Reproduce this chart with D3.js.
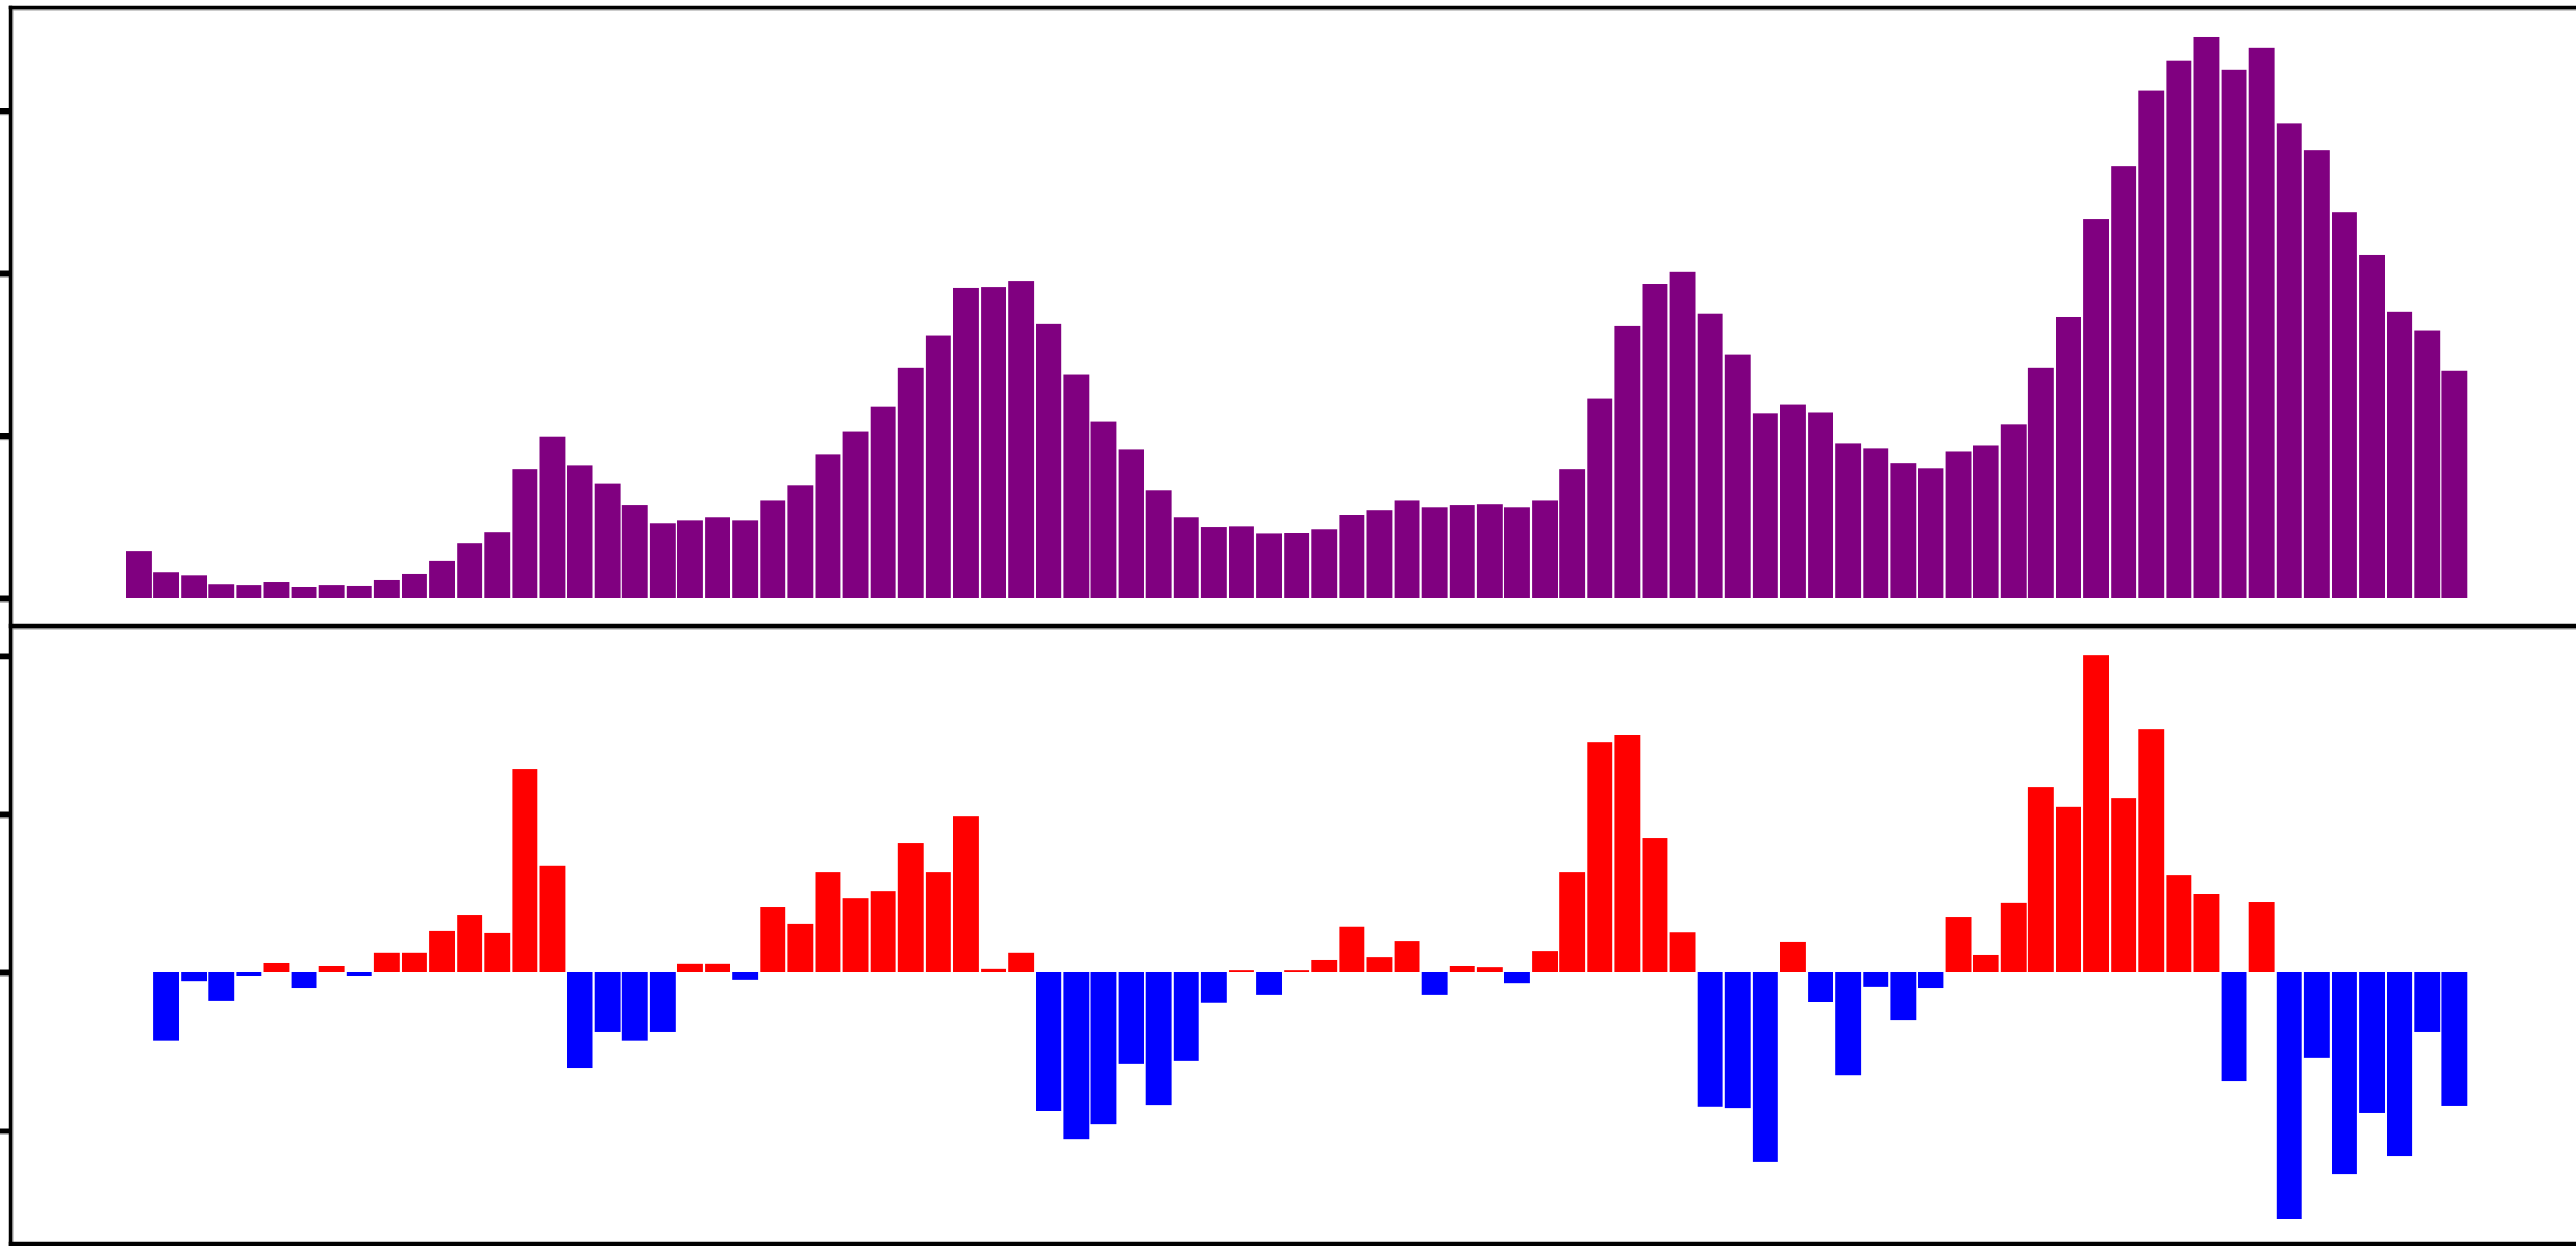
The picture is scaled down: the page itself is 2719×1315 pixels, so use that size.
<!DOCTYPE html>
<html>
<head>
<meta charset="utf-8">
<script src="https://cdn.jsdelivr.net/npm/d3@7"></script>
<style>
  html, body { margin: 0; padding: 0; background: #ffffff; overflow: hidden; }
  svg { display: block; }
</style>
</head>
<body>
<svg id="chart" width="2719" height="1315"></svg>
<script>
// ---- data ----
const categories = d3.range(1, 86); // 85 periods

const totals = [
  2.85, 1.56, 1.38, 0.86, 0.81, 0.99, 0.69, 0.81, 0.76, 1.11,
  1.46, 2.28, 3.37, 4.07, 7.92, 9.93, 8.14, 7.02, 5.71, 4.59,
  4.76, 4.94, 4.76, 5.98, 6.92, 8.84, 10.23, 11.74, 14.18, 16.12,
  19.07, 19.12, 19.47, 16.86, 13.73, 10.87, 9.13, 6.63, 4.94, 4.37,
  4.41, 3.94, 4.02, 4.24, 5.11, 5.41, 5.98, 5.58, 5.71, 5.76,
  5.58, 5.98, 7.92, 12.27, 16.74, 19.30, 20.07, 17.51, 14.95, 11.35,
  11.92, 11.40, 9.48, 9.19, 8.27, 7.97, 9.01, 9.36, 10.65, 14.18,
  17.26, 23.32, 26.58, 31.22, 33.08, 34.52, 32.49, 33.83, 29.19, 27.57,
  23.72, 21.11, 17.62, 16.47, 13.95
];

// change from the previous period (periods 2..85)
const changes = [
  -4.35, -0.55, -1.79, -0.24, 0.60, -1.02, 0.37, -0.24, 1.21,
  1.21, 2.58, 3.59, 2.46, 12.81, 6.72, -6.05, -3.77, -4.35, -3.77,
  0.55, 0.55, -0.47, 4.13, 3.06, 6.34, 4.66, 5.14, 8.14, 6.34,
  9.87, 0.19, 1.21, -8.80, -10.55, -9.59, -5.80, -8.39, -5.62, -1.96,
  0.11, -1.43, 0.11, 0.78, 2.89, 0.95, 1.97, -1.43, 0.37, 0.29,
  -0.67, 1.31, 6.34, 14.54, 14.97, 8.50, 2.50, -8.49, -8.57, -11.97,
  1.92, -1.86, -6.54, -0.95, -3.06, -1.02, 3.47, 1.08, 4.38, 11.67,
  10.43, 20.05, 11.01, 15.38, 6.16, 4.96, -6.89, 4.43, -15.58, -5.44,
  -12.76, -8.92, -11.62, -3.77, -8.44
];

const topTicks = [0, 10, 20, 30];
const bottomTicks = [-10, 0, 10, 20];
const tickLabels = ["", "", "", ""];

// ---- layout ----
const W = 2719, H = 1315;
const axisX = 11;
const topY0 = 8, topZero = 631, sepY = 661, botY1 = 1313, botZero = 1026;

const svg = d3.select("#chart");

const x = d3.scaleBand()
  .domain(categories)
  .range([131.9, 2605.4])
  .paddingInner(0.0756)
  .paddingOuter(0.0378);

const yTop = d3.scaleLinear()
  .domain([0, (topZero - topY0) / 17.15])
  .range([topZero, topY0]);

const yBot = d3.scaleLinear()
  .domain([-(botY1 - botZero) / 16.7, (botZero - sepY) / 16.7])
  .range([botY1, sepY]);

// top panel bars
svg.append("g")
  .selectAll("rect")
  .data(totals.map((v, i) => ({ c: categories[i], v })))
  .join("rect")
  .attr("x", d => x(d.c))
  .attr("width", x.bandwidth())
  .attr("y", d => yTop(d.v))
  .attr("height", d => yTop(0) - yTop(d.v))
  .attr("fill", "#800080");

// bottom panel bars
svg.append("g")
  .selectAll("rect")
  .data(changes.map((v, i) => ({ c: categories[i + 1], v })))
  .join("rect")
  .attr("x", d => x(d.c))
  .attr("width", x.bandwidth())
  .attr("y", d => yBot(Math.max(0, d.v)))
  .attr("height", d => Math.abs(yBot(d.v) - yBot(0)))
  .attr("fill", d => d.v >= 0 ? "#ff0000" : "#0000ff");

// axes (ticks only, no labels)
const styleAxis = g => {
  g.select(".domain").remove();
  g.selectAll(".tick").each(function () {
    const t = d3.select(this);
    t.select("line").attr("stroke", "#000").attr("stroke-width", 6);
    t.append("line").attr("x1", -11).attr("x2", 0).attr("y1", 3.6).attr("y2", 3.6)
      .attr("stroke", "#999").attr("stroke-width", 1.2);
  });
  g.selectAll(".tick text").remove();
};

svg.append("g")
  .attr("transform", `translate(${axisX},0)`)
  .call(d3.axisLeft(yTop).tickValues(topTicks).tickFormat((d, i) => tickLabels[i]).tickSize(11))
  .call(styleAxis);

svg.append("g")
  .attr("transform", `translate(${axisX},0)`)
  .call(d3.axisLeft(yBot).tickValues(bottomTicks).tickFormat((d, i) => tickLabels[i]).tickSize(11))
  .call(styleAxis);

// frame lines (black with a faint grey edge, as in the reference)
const shade = svg.append("g").attr("stroke", "#9a9a9a").attr("stroke-width", 1.2).attr("fill", "none");
shade.append("line").attr("x1", axisX + 2.9).attr("x2", axisX + 2.9).attr("y1", topY0).attr("y2", H);
[topY0, sepY, botY1].forEach(y => {
  shade.append("line").attr("x1", axisX).attr("x2", W).attr("y1", y + 2.9).attr("y2", y + 2.9);
});

const frame = svg.append("g").attr("stroke", "#000").attr("stroke-width", 4.5).attr("fill", "none");
frame.append("line").attr("x1", axisX).attr("x2", axisX).attr("y1", topY0 - 2.25).attr("y2", H);
[topY0, sepY, botY1].forEach(y => {
  frame.append("line").attr("x1", axisX - 2.25).attr("x2", W).attr("y1", y).attr("y2", y);
});
</script>
</body>
</html>
